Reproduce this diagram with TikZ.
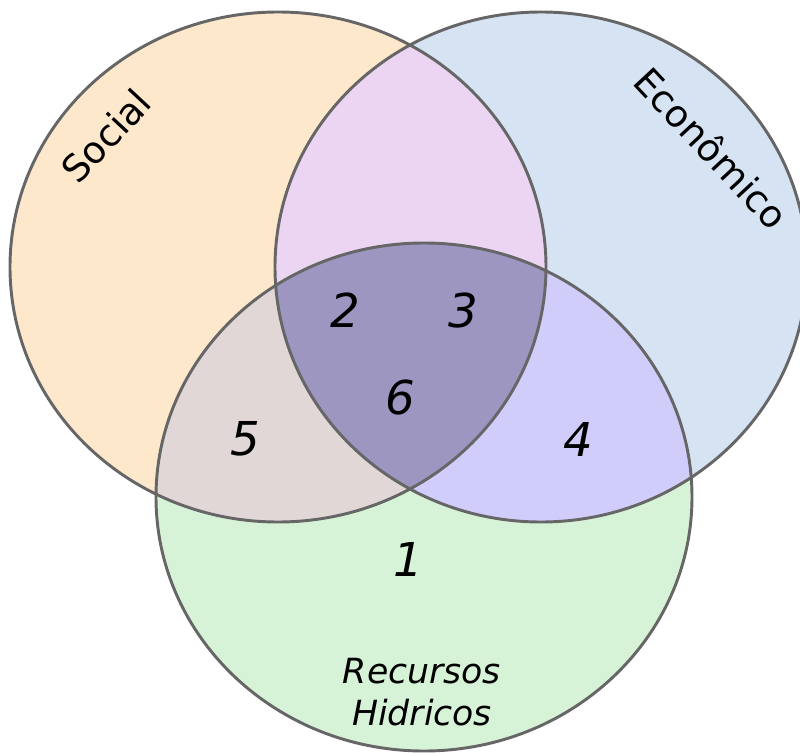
\documentclass[tikz,border=0pt]{standalone}
\usepackage{fontspec}
\setmainfont{DejaVu Sans}
\definecolor{socialfill}{HTML}{FEE8CC}
\definecolor{econfill}{HTML}{D6E3F3}
\definecolor{aguafill}{HTML}{D7F3D7}
\definecolor{socialecon}{HTML}{EBD5F3}
\definecolor{socialagua}{HTML}{E1D7D7}
\definecolor{econagua}{HTML}{D0CDFB}
\definecolor{centrofill}{HTML}{9C96C1}
\definecolor{bordagray}{HTML}{666666}
\tikzset{
  borda/.style={draw=bordagray, line width=2.2pt},
  numero/.style={inner sep=0pt, font=\fontsize{35}{40}\selectfont\itshape},
  rotulo/.style={inner sep=0pt, font=\fontsize{28}{32}\selectfont},
}
\begin{document}
\begin{tikzpicture}[x=0.75pt, y=-0.75pt]
\useasboundingbox (0,0) rectangle (800,753);
\clip (0,0) rectangle (800,753);
\def\socialpath{(278,267) ellipse [x radius=268, y radius=255]}
\def\econpath{(541,267) ellipse [x radius=266, y radius=255]}
\def\aguapath{(424,497) ellipse [x radius=268, y radius=254]}
% base fills
\fill [socialfill] \socialpath;
\fill [econfill] \econpath;
\fill [aguafill] \aguapath;
% overlaps
\begin{scope}
\clip \socialpath;
\fill [socialecon] \econpath;
\fill [socialagua] \aguapath;
\end{scope}
\begin{scope}
\clip \econpath;
\fill [econagua] \aguapath;
\end{scope}
\begin{scope}
\clip \socialpath;
\clip \econpath;
\fill [centrofill] \aguapath;
\end{scope}
% outlines
\draw [borda] \socialpath;
\draw [borda] \econpath;
\draw [borda] \aguapath;
% labels
\node [rotulo, rotate=47] (social) at (106,136) {Social};
\node [rotulo, rotate=-47] (econ) at (712,148) {Econômico};
\node [rotulo, align=center, font=\fontsize{26}{32}\selectfont\itshape] (agua) at (422,692) {Recursos\\Hidricos};
\node [numero] (n1) at (408,559) {1};
\node [numero] (n2) at (345,310) {2};
\node [numero] (n3) at (463,311) {3};
\node [numero] (n4) at (578,439) {4};
\node [numero] (n5) at (245,439) {5};
\node [numero] (n6) at (400,398) {6};
\end{tikzpicture}
\end{document}
